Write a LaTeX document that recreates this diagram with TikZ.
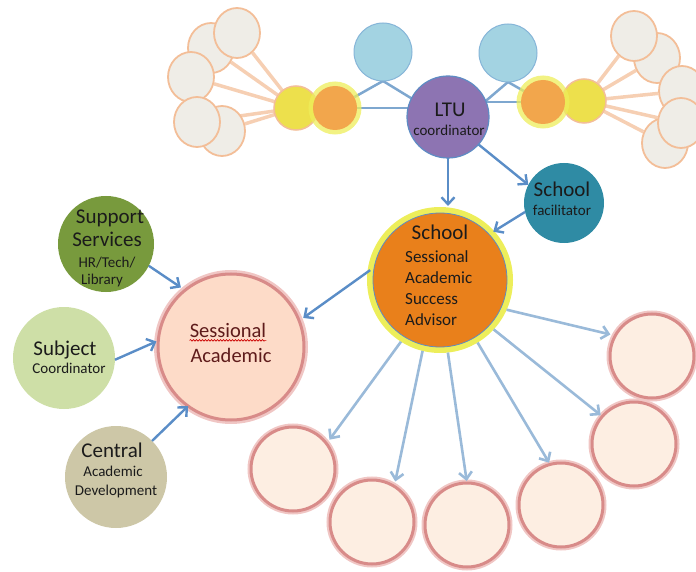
\documentclass[tikz,border=0pt]{standalone}
\usepackage{fontspec}
\setmainfont{Carlito}
\usetikzlibrary{arrows.meta,decorations.pathmorphing,shapes.geometric}
\pgfdeclarelayer{bg}
\pgfsetlayers{bg,main}
\definecolor{ltuC}{HTML}{8D74B2}
\definecolor{ltuB}{HTML}{5E8CC4}
\definecolor{lbC}{HTML}{A3D3E2}
\definecolor{lbB}{HTML}{86B5D8}
\definecolor{tealC}{HTML}{2F8BA4}
\definecolor{oraC}{HTML}{E9801B}
\definecolor{yelG}{HTML}{EDEE5A}
\definecolor{oliveC}{HTML}{789A3D}
\definecolor{lgC}{HTML}{CEDFA7}
\definecolor{khC}{HTML}{CDC7A7}
\definecolor{sessC}{HTML}{FDDBC8}
\definecolor{ringC}{HTML}{D88B89}
\definecolor{ringG}{HTML}{F0C6C4}
\definecolor{lowC}{HTML}{FDEEE2}
\definecolor{greyC}{HTML}{EFEDE7}
\definecolor{peachB}{HTML}{F3BE98}
\definecolor{peachL}{HTML}{F6CFB3}
\definecolor{yelC}{HTML}{EDE04C}
\definecolor{oraS}{HTML}{F2A64C}
\definecolor{arrD}{HTML}{5A8DC7}
\definecolor{arrL}{HTML}{9ABAD9}
\definecolor{linkC}{HTML}{7EA7CF}
\definecolor{txtC}{HTML}{1B1B1B}
\definecolor{sessT}{HTML}{5E1B1B}
\tikzset{
 circ/.style={circle, inner sep=0pt, outer sep=0pt, minimum size=#1},
 txtbig/.style={font=\fontsize{21}{24}\selectfont, text=txtC, anchor=base, inner sep=0pt},
 txtmid/.style={font=\fontsize{17}{21}\selectfont, text=txtC, anchor=base west, inner sep=0pt},
 txtsml/.style={font=\fontsize{15}{18}\selectfont, text=txtC, anchor=base, inner sep=0pt},
 txtsess/.style={font=\fontsize{20.5}{24}\selectfont, text=sessT, anchor=base, inner sep=0pt},
 darr/.style={draw=arrD, line width=2.4pt, -{Straight Barb[length=7pt,width=13pt]}},
 larr/.style={draw=arrL, line width=2.6pt, -{Straight Barb[length=7pt,width=13pt]}},
 linkline/.style={draw=linkC, line width=2.5pt},
 plink/.style={draw=peachL, line width=3.5pt},
 greyc/.style={ellipse, inner sep=0pt, minimum width=46pt, minimum height=50pt, fill=greyC, draw=peachB, line width=1.8pt},
 yelc/.style={circ=44pt, fill=yelC, draw=peachB, line width=1.5pt},
 orac/.style={circ=44pt, fill=oraS, preaction={draw=yelG, draw opacity=0.75, line width=9pt}},
 lbc/.style={circ=58pt, fill=lbC, draw=lbB, line width=1pt},
 lowc/.style={circ=84pt, fill=lowC, draw=ringC, line width=3pt, preaction={draw=ringG, line width=7pt}},
}
\begin{document}
\begin{tikzpicture}[x=1pt,y=-1pt]
\useasboundingbox (0,0) rectangle (696,572);

% left grey cluster
\node[greyc] (gB) at (211,48) {};
\node[greyc] (gA) at (237,33) {};
\node[greyc] (gC) at (191,77) {};
\node[greyc] (gE) at (222,131) {};
\node[greyc] (gD) at (197,122) {};
% right grey cluster
\node[greyc] (gG) at (657,58) {};
\node[greyc] (gF) at (634,36) {};
\node[greyc] (gH) at (682,91) {};
\node[greyc] (gJ) at (665,143) {};
\node[greyc] (gI) at (681,123) {};

% small yellow / orange circles
\node[yelc] (yL) at (296,108) {};
\node[orac] (oL) at (335,108) {};
\node[yelc] (yR) at (584,101) {};
\node[orac] (oR) at (543,102) {};

% light blue
\node[lbc] (lb1) at (383,52) {};
\node[lbc] (lb2) at (508,53) {};

% LTU
\node[circ=82pt, fill=ltuC, draw=ltuB, line width=1.2pt] (ltu) at (448,117) {};
% facilitator
\node[circ=80pt, fill=tealC] (fac) at (564,203) {};
% SASA
\node[circ=134pt, fill=oraC, draw=ltuB, line width=0.8pt, preaction={draw=yelG, line width=12pt}] (sasa) at (440,280) {};
% Sessional academic
\node[circ=146pt, fill=sessC, draw=ringC, line width=3pt, preaction={draw=ringG, line width=8pt}] (sess) at (231,347) {};
% Support, Subject, Central
\node[circ=96pt, fill=oliveC] (sup) at (106,244) {};
\node[circ=102pt, fill=lgC] (subj) at (64,358) {};
\node[circ=102pt, fill=khC] (cen) at (116,477) {};

% lower circles
\node[lowc] (c1) at (293,469) {};
\node[lowc] (c2) at (372,522) {};
\node[lowc] (c3) at (467,525) {};
\node[lowc] (c4) at (561,505) {};
\node[lowc] (c5) at (634,444) {};
\node[lowc] (c6) at (652,356) {};

% background links
\begin{pgfonlayer}{bg}
\foreach \g in {gA,gB,gC,gD,gE} \draw[plink] (yL) -- (\g);
\foreach \g in {gF,gG,gH,gI,gJ} \draw[plink] (yR) -- (\g);
\draw[linkline] (lb1.south) -- (ltu.153);
\draw[linkline] (lb1.south) -- (oL);
\draw[linkline] (oL) -- (oL -| ltu);
\draw[linkline] (lb2.south) -- (ltu.23);
\draw[linkline] (lb2.south) -- (oR);
\draw[linkline] (oR) -- (oR -| ltu);
\end{pgfonlayer}

% dark arrows
\draw[darr, shorten >=7pt] (ltu.south) -- (ltu.south |- sasa.north);
\draw[darr] (ltu.-42) -- (fac.153);
\draw[darr, shorten >=5pt] (fac.193) -- (sasa.43);
\draw[darr, shorten <=5pt, shorten >=5pt] (sasa.169) -- (sess.21);
\draw[darr, shorten >=5pt] (sup.-27) -- (sess.129);
\draw[darr, shorten >=2pt] (subj.-2) -- (sess.175);
\draw[darr] (cen.45) -- (sess.234);

% light arrows
\draw[larr, shorten <=6pt, shorten >=5pt] (sasa.-25) -- (c6.151);
\draw[larr, shorten <=6pt, shorten >=2pt] (sasa.-43) -- (c5.139);
\draw[larr, shorten <=6pt, shorten >=2pt] (sasa.-59) -- (c4.105);
\draw[larr, shorten <=6pt, shorten >=2pt] (sasa.-84) -- (c3.90);
\draw[larr, shorten <=6pt, shorten >=5pt] (sasa.-104) -- (c2.58);
\draw[larr, shorten <=6pt, shorten >=5pt] (sasa.-122) -- (c1.37);

% texts
\node[txtbig] (tltu) at (450,117) {LTU};
\node[txtsml] (tltu2) at (449,136) {coordinator};
\node[txtbig] (tfac) at (562,197) {School};
\node[txtsml] (tfac2) at (562,216) {facilitator};
\node[txtbig] (ts1) at (440,240) {School};
\node[txtmid] (ts2) at (405,262) {Sessional};
\node[txtmid] (ts3) at (405,283) {Academic};
\node[txtmid] (ts4) at (405,304) {Success};
\node[txtmid] (ts5) at (405,325) {Advisor};
\node[txtbig] (tsu1) at (110,223) {Support};
\node[txtbig] (tsu2) at (107,247) {Services};
\node[txtsml] (tsu3) at (107,267) {HR/Tech/};
\node[txtsml] (tsu4) at (102,284) {Library};
\node[txtbig] (tsb1) at (65,355) {Subject};
\node[txtsml] (tsb2) at (69,373) {Coordinator};
\node[txtbig] (tc1) at (112,457) {Central};
\node[txtsml] (tc2) at (113,476) {Academic};
\node[txtsml] (tc3) at (116,495) {Development};
\node[txtsess] (tse1) at (228,337) {Sessional};
\node[txtsess] (tse2) at (231,362) {Academic};
\draw[red!80!black, line width=0.6pt, decorate, decoration={snake, amplitude=0.8pt, segment length=3pt}]
  ([yshift=-3pt]tse1.south west) -- ([yshift=-3pt]tse1.south east);
\end{tikzpicture}
\end{document}
